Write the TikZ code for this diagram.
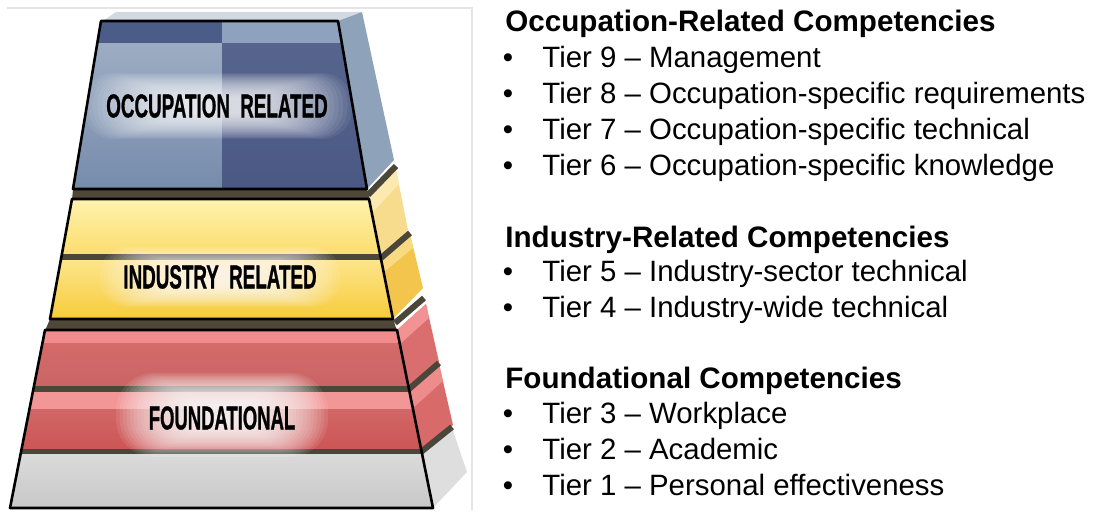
\documentclass[tikz,border=0pt]{standalone}
\usepackage{fontspec}
\setmainfont{Liberation Sans}
\newfontfamily\pyrfont[FakeBold=1.2]{Liberation Sans Bold}
\usetikzlibrary{calc}

% palette
\definecolor{framegray}{HTML}{E4E4E4}
\definecolor{topgray}{HTML}{D3D9E2}
\definecolor{occTopL}{HTML}{4B5C89}
\definecolor{occTopR}{HTML}{8EA2BF}
\definecolor{occL1}{HTML}{A2B1C6}
\definecolor{occL2}{HTML}{B9C5D5}
\definecolor{occL3}{HTML}{768CAC}
\definecolor{occR1}{HTML}{58678F}
\definecolor{occR2}{HTML}{4A5884}
\definecolor{occSide}{HTML}{8EA3BA}
\definecolor{indA}{HTML}{FFF2AE}
\definecolor{indB}{HTML}{FBDD6C}
\definecolor{indC}{HTML}{FDE58C}
\definecolor{indD}{HTML}{F7CB3A}
\definecolor{indSide1}{HTML}{F7DC8E}
\definecolor{indSide1L}{HTML}{FBE9B0}
\definecolor{indSide2}{HTML}{F4C54C}
\definecolor{indSide2L}{HTML}{F9DA80}
\definecolor{fndA}{HTML}{F28B8B}
\definecolor{fndB}{HTML}{D46A6A}
\definecolor{fndC}{HTML}{F29696}
\definecolor{fndD}{HTML}{CD5555}
\definecolor{fndSide1}{HTML}{DA6E6E}
\definecolor{fndSide1L}{HTML}{F29292}
\definecolor{fndSide2}{HTML}{D96A6A}
\definecolor{fndSide2L}{HTML}{EE8C8C}
\definecolor{baseA}{HTML}{DADADA}
\definecolor{baseB}{HTML}{C8C8C8}
\definecolor{baseSide}{HTML}{DEDEDE}
\definecolor{sepdark}{HTML}{4A463A}
\definecolor{gapdark}{HTML}{4F4738}

% soft stadium-shaped glow: centre x, centre y, half width, half height, colour, layer opacity
\newcommand\softglow[6]{%
  \foreach \k in {0,...,23}{%
    \pgfmathsetmacro\gw{#3-\k*#3/30}%
    \pgfmathsetmacro\gh{#4-\k*#4/30}%
    \pgfmathsetmacro\gr{\gh*0.45}%
    \fill[#5, opacity=#6, rounded corners=\gr pt] (#1-\gw,#2-\gh) rectangle (#1+\gw,#2+\gh);
  }%
}

\tikzset{
  outline/.style={draw=black, line width=1.3pt, line join=round},
  sepline/.style={draw=sepdark, line width=3pt, line cap=butt},
  tierlabel/.style={inner sep=0pt, font=\fontsize{16.5}{16.5}\pyrfont},
  heading/.style={anchor=base west, inner sep=0pt, font=\fontsize{14.8}{16}\selectfont\bfseries},
  item/.style={anchor=base west, inner sep=0pt, font=\fontsize{14.7}{16}\selectfont},
  bulletmark/.style={anchor=base, inner sep=0pt, font=\fontsize{14.7}{16}\selectfont}
}

\begin{document}
\begin{tikzpicture}[x=0.5pt, y=-0.5pt]
\useasboundingbox (0,0) rectangle (1097,512);
\fill[white] (0,0) rectangle (1097,512);

% light frame round the pyramid panel
\draw[framegray, line width=0.6pt] (7,8) -- (472,8) -- (472,510);

% ---------- right-hand side faces ----------
\fill[topgray] (103,21) -- (116,12) -- (362,12) -- (338,21) -- cycle;
\fill[occSide] (338,21) -- (362,12) -- (394,160) -- (367,189) -- cycle;

\fill[indSide1] (369,199) -- (396,170) -- (408,230) -- (381,258) -- cycle;
\fill[indSide1L] (369,199) -- (396,170) -- (399,184) -- (372,213) -- cycle;
\fill[indSide2] (381,258) -- (410,234) -- (423,288) -- (393,319) -- cycle;
\fill[indSide2L] (381,258) -- (410,234) -- (413,248) -- (384,272) -- cycle;

\fill[fndSide1] (397,330) -- (426,304) -- (439,362) -- (409,390) -- cycle;
\fill[fndSide1L] (397,330) -- (426,304) -- (429,318) -- (400,344) -- cycle;
\fill[fndSide2] (409,390) -- (439,364) -- (453,425) -- (422,453) -- cycle;
\fill[fndSide2L] (409,390) -- (439,364) -- (443,381) -- (413,408) -- cycle;

\fill[baseSide] (422,453) -- (452,428) -- (467,472) -- (433,508) -- cycle;

% shadows between the side faces
\draw[sepline] (368,195) -- (396,166);
\draw[sepline] (381,258) -- (410,233);
\draw[sepline] (395,323) -- (424,298);
\draw[sepline] (409,389) -- (439,363);
\draw[sepline] (421,452) -- (452,427);

% dark gaps between the blocks
\fill[gapdark] (73,189) -- (367,189) -- (370,200) -- (72,200) -- cycle;
\fill[gapdark] (50,319) -- (393,319) -- (397,331) -- (45,331) -- cycle;

% ---------- occupation block ----------
\begin{scope}
  \clip (101,21) -- (338,21) -- (367,189) -- (73,189) -- cycle;
  \shade[top color=occL1, middle color=occL2, bottom color=occL3] (60,21) rectangle (222,189);
  \shade[top color=occR1, bottom color=occR2] (222,21) rectangle (380,189);
  \fill[occTopL] (60,21) rectangle (222,43);
  \fill[occTopR] (222,21) rectangle (380,43);
  \softglow{218}{106}{134}{33}{white}{0.065}
\end{scope}
\draw[outline] (101,21) -- (338,21) -- (367,189) -- (73,189) -- cycle;

% ---------- industry block ----------
\begin{scope}
  \clip (72,199) -- (369,199) -- (393,319) -- (50,319) -- cycle;
  \shade[top color=indA, bottom color=indB] (40,199) rectangle (400,256);
  \shade[top color=indC, bottom color=indD] (40,259) rectangle (400,319);
  \fill[sepdark] (40,254) rectangle (400,260);
  \softglow{220}{277}{120}{30}{white}{0.07}
\end{scope}
\draw[outline] (72,199) -- (369,199) -- (393,319) -- (50,319) -- cycle;

% ---------- foundational block ----------
\begin{scope}
  \clip (45,330) -- (397,330) -- (433,508) -- (10,508) -- cycle;
  \fill[fndA] (0,330) rectangle (440,344);
  \shade[top color=fndB, bottom color=fndB!95!black] (0,344) rectangle (440,388);
  \fill[sepdark] (0,386) rectangle (440,392);
  \fill[fndC] (0,392) rectangle (440,410);
  \shade[top color=fndD!90!white, bottom color=fndD] (0,410) rectangle (440,450);
  \fill[sepdark] (0,449) rectangle (440,455);
  \shade[top color=baseA, bottom color=baseB] (0,455) rectangle (440,508);
  \softglow{222}{415}{106}{42}{white}{0.09}
\end{scope}
\draw[outline] (45,330) -- (397,330) -- (433,508) -- (10,508) -- cycle;

% ---------- labels on the pyramid ----------
\node[tierlabel] (occlabel) at (217,106) {\scalebox{0.57}[1]{OCCUPATION\hspace{0.55em}RELATED}};
\node[tierlabel] (indlabel) at (220,277) {\scalebox{0.57}[1]{INDUSTRY\hspace{0.55em}RELATED}};
\node[tierlabel] (fndlabel) at (222,418) {\scalebox{0.56}[1]{FOUNDATIONAL}};

% ---------- competency lists ----------
\node[heading] (hocc) at (505,32) {Occupation-Related Competencies};
\node[bulletmark] (b9) at (508,68) {•};
\node[item] (t9) at (542,68) {Tier 9 – Management};
\node[bulletmark] (b8) at (508,104) {•};
\node[item] (t8) at (542,104) {Tier 8 – Occupation-specific requirements};
\node[bulletmark] (b7) at (508,140) {•};
\node[item] (t7) at (542,140) {Tier 7 – Occupation-specific technical};
\node[bulletmark] (b6) at (508,176) {•};
\node[item] (t6) at (542,176) {Tier 6 – Occupation-specific knowledge};

\node[heading] (hind) at (505,248) {Industry-Related Competencies};
\node[bulletmark] (b5) at (508,282) {•};
\node[item] (t5) at (542,282) {Tier 5 – Industry-sector technical};
\node[bulletmark] (b4) at (508,318) {•};
\node[item] (t4) at (542,318) {Tier 4 – Industry-wide technical};

\node[heading] (hfnd) at (505,389) {Foundational Competencies};
\node[bulletmark] (b3) at (508,424) {•};
\node[item] (t3) at (542,424) {Tier 3 – Workplace};
\node[bulletmark] (b2) at (508,460) {•};
\node[item] (t2) at (542,460) {Tier 2 – Academic};
\node[bulletmark] (b1) at (508,496) {•};
\node[item] (t1) at (542,496) {Tier 1 – Personal effectiveness};
\end{tikzpicture}
\end{document}
